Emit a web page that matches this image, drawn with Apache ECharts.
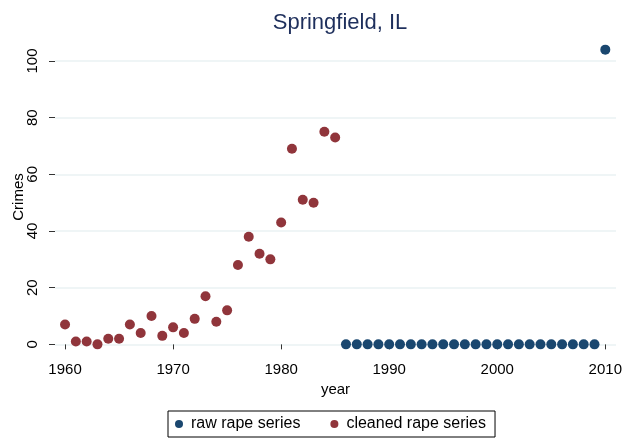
<!DOCTYPE html>
<html><head><meta charset="utf-8">
<script src="https://cdn.jsdelivr.net/npm/echarts@6/dist/echarts.min.js"></script>
<style>html,body{margin:0;padding:0;background:#fff}#c{width:636px;height:438px}</style>
</head><body><div id="c"></div>
<script>
const rawYears = [1986,1987,1988,1989,1990,1991,1992,1993,1994,1995,1996,1997,1998,1999,2000,2001,2002,2003,2004,2005,2006,2007,2008,2009,2010];
const rawValues = [0,0,0,0,0,0,0,0,0,0,0,0,0,0,0,0,0,0,0,0,0,0,0,0,104];
const cleanYears = [1960,1961,1962,1963,1964,1965,1966,1967,1968,1969,1970,1971,1972,1973,1974,1975,1976,1977,1978,1979,1980,1981,1982,1983,1984,1985];
const cleanValues = [7,1,1,0,2,2,7,4,10,3,6,4,9,17,8,12,28,38,32,30,43,69,51,50,75,73];
const xTicks = [1960,1970,1980,1990,2000,2010];
const yTicks = [0,20,40,60,80,100];

const chart = echarts.init(document.getElementById('c'), null, {renderer:'canvas'});
const font = 'Liberation Sans, Arial, sans-serif';
chart.setOption({
  animation:false,
  backgroundColor:'#ffffff',
  title:{text:'Springfield, IL', left:335, top:7, textAlign:'center',
    textStyle:{color:'#1e2f5c', fontSize:22, fontWeight:'normal', fontFamily:font}},
  grid:{left:55, right:20, top:40, bottom:84, containLabel:false, outerBoundsMode:'none'},
  xAxis:{type:'value', min:1959.07, max:2010.99,
    name:'year', nameLocation:'middle', nameGap:28,
    nameTextStyle:{color:'#000', fontSize:15, fontFamily:font},
    axisLine:{show:false},
    axisTick:{show:true, length:5, lineStyle:{color:'#333'}, customValues:xTicks},
    axisLabel:{color:'#000', fontSize:15, fontFamily:font, margin:8, customValues:xTicks,
      formatter:function(v){return String(v);}},
    splitLine:{show:false}},
  yAxis:{type:'value', min:-3.4, max:107.4,
    name:'Crimes', nameLocation:'middle', nameGap:29, nameMoveOverlap:false,
    nameTextStyle:{color:'#000', fontSize:15, fontFamily:font},
    axisLine:{show:false},
    axisTick:{show:true, length:6, lineStyle:{color:'#333'}, customValues:yTicks},
    axisLabel:{color:'#000', fontSize:15, fontFamily:font, rotate:90, margin:15, customValues:yTicks,
      formatter:function(v){return String(v);}},
    splitLine:{show:true, lineStyle:{color:'#eaf2f3', width:1.5}}},
  legend:{bottom:1, left:168, orient:'horizontal',
    borderColor:'#000', borderWidth:1, borderRadius:0, padding:[5,9,5,7],
    itemGap:30, itemWidth:8, itemHeight:8, icon:'circle',
    textStyle:{color:'#000', fontSize:16, fontFamily:font, padding:[0,0,0,3]},
    data:['raw rape series','cleaned rape series']},
  series:[
    {name:'raw rape series', type:'scatter', symbolSize:10, clip:false,
     itemStyle:{color:'#1a476f', opacity:1},
     data: rawYears.map((y,i)=>[y, rawValues[i]])},
    {name:'cleaned rape series', type:'scatter', symbolSize:10, clip:false,
     itemStyle:{color:'#90353b', opacity:1},
     data: cleanYears.map((y,i)=>[y, cleanValues[i]])}
  ]
});
</script></body></html>
